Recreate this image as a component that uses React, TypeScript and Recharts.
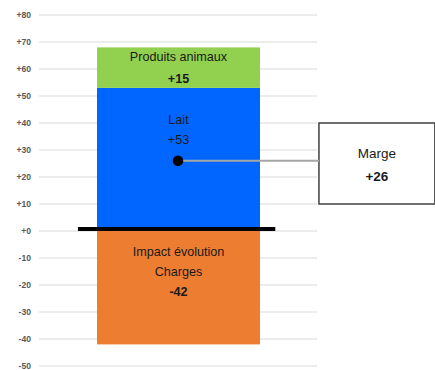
import React from 'react';
import {
  ComposedChart,
  Bar,
  XAxis,
  YAxis,
  CartesianGrid,
  ReferenceLine,
  ReferenceDot,
  ReferenceArea,
} from 'recharts';

const seriesKeys = ['lait', 'produits', 'charges'];
const seriesValues = [53, 15, -42];
const seriesColors = ['#0066ff', '#92d050', '#ed7d31'];
const seriesLines = [
  ['Lait', '+53'],
  ['Produits animaux', '+15'],
  ['Impact évolution', 'Charges', '-42'],
];
const yTicks = [-50, -40, -30, -20, -10, 0, 10, 20, 30, 40, 50, 60, 70, 80];
const margeLabel = 'Marge';
const margeValue = 26;

// position of the single bar on the hidden 0-100 annotation axis
const row: Record<string, any> = { name: 'Bilan', pos: 50 };
seriesKeys.forEach((k, i) => {
  row[k] = seriesValues[i];
});
const data = [row];

const FONT = "'Liberation Sans', Arial, sans-serif";

// text placement inside each segment: offset from segment top, line gap, bold last line
const textLayout = [
  { first: 32, gap: 20, bold: false },
  { first: 10, gap: 22, bold: true },
  { first: 21, gap: 20, bold: true },
];

const makeShape = (idx: number) => (props: any) => {
  const { x, y, width, height, fill } = props;
  const top = Math.min(y, y + height);
  const h = Math.abs(height);
  const cx = x + width / 2;
  const lay = textLayout[idx];
  const lines = seriesLines[idx];
  return (
    <g>
      <rect x={x} y={top} width={width} height={h} fill={fill} />
      {lines.map((t, i) => (
        <text
          key={i}
          x={cx}
          y={top + lay.first + i * lay.gap}
          textAnchor="middle"
          dominantBaseline="central"
          fontFamily={FONT}
          fontSize={12.6}
          fontWeight={lay.bold && i === lines.length - 1 ? 'bold' : 'normal'}
          fill="#1a1a1a"
        >
          {t}
        </text>
      ))}
    </g>
  );
};

const fmtTick = (v: number) => (v >= 0 ? `+${v}` : `${v}`);

const MargeBox = (props: any) => {
  const { x, y, width, height } = props;
  const cx = x + width / 2;
  const cy = y + height / 2;
  return (
    <g>
      <rect x={x} y={y} width={width} height={height} fill="#ffffff" stroke="#404040" strokeWidth={1.5} />
      <text x={cx} y={cy - 10.5} textAnchor="middle" dominantBaseline="central" fontFamily={FONT} fontSize={13.5} fill="#1a1a1a">
        {margeLabel}
      </text>
      <text x={cx} y={cy + 13} textAnchor="middle" dominantBaseline="central" fontFamily={FONT} fontSize={13.5} fontWeight="bold" fill="#1a1a1a">
        {fmtTick(margeValue)}
      </text>
    </g>
  );
};

export default function App() {
  return (
    <div style={{ position: 'absolute', left: 0, top: 0, width: 435, height: 370, background: '#fff' }}>
      <ComposedChart
        width={435}
        height={370}
        data={data}
        stackOffset="sign"
        margin={{ top: 15, right: 118, bottom: 4, left: 0 }}
      >
        <CartesianGrid xAxisId="cat" vertical={false} stroke="#d9d9d9" strokeWidth={1.2} />
        <XAxis xAxisId="cat" dataKey="name" hide />
        <XAxis xAxisId="num" dataKey="pos" type="number" domain={[0, 100]} allowDataOverflow hide />
        <YAxis
          width={39}
          domain={[-50, 80]}
          ticks={yTicks}
          interval={0}
          axisLine={false}
          tickLine={false}
          tickFormatter={fmtTick}
          tick={{ fontSize: 8.6, fill: '#595959', fontWeight: 'bold', fontFamily: FONT }}
        />
        {seriesKeys.map((k, i) => (
          <Bar
            key={k}
            xAxisId="cat"
            dataKey={k}
            stackId="a"
            barSize={163}
            fill={seriesColors[i]}
            shape={makeShape(i)}
            isAnimationActive={false}
          />
        ))}
        <ReferenceLine
          xAxisId="num"
          segment={[{ x: 14, y: 0.7 }, { x: 85, y: 0.7 }]}
          stroke="#000000"
          strokeWidth={4}
          ifOverflow="visible"
        />
        <ReferenceLine
          xAxisId="num"
          segment={[{ x: 50, y: margeValue }, { x: 100.7, y: margeValue }]}
          stroke="#a6a6a6"
          strokeWidth={2}
          ifOverflow="visible"
        />
        <ReferenceDot xAxisId="num" x={50} y={margeValue} r={5.3} fill="#000000" stroke="none" />
        <ReferenceArea
          xAxisId="num"
          x1={100.7}
          x2={142.4}
          y1={10}
          y2={40}
          ifOverflow="visible"
          shape={<MargeBox />}
        />
      </ComposedChart>
    </div>
  );
}
